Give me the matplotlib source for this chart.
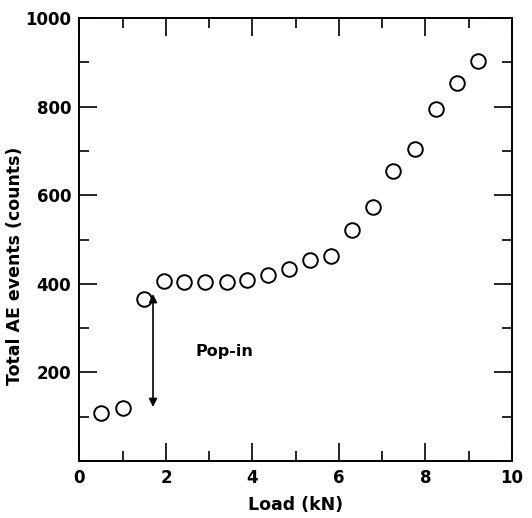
import matplotlib
matplotlib.use("Agg")
import matplotlib.pyplot as plt
from matplotlib.ticker import MultipleLocator

load_kN = [0.5, 1.0, 1.5, 1.95, 2.42, 2.9, 3.4, 3.88, 4.36, 4.85, 5.34, 5.82,
           6.31, 6.79, 7.26, 7.75, 8.25, 8.73, 9.21]
ae_counts = [109, 119, 366, 406, 405, 404, 405, 409, 420, 433, 453, 463,
             521, 573, 654, 704, 794, 854, 904]

x_ticks = [0, 2, 4, 6, 8, 10]
y_ticks = [200, 400, 600, 800, 1000]

fig = plt.figure(figsize=(5.32, 5.18), dpi=100)
ax = fig.add_axes([0.1494, 0.110, 0.8130, 0.855])

ax.plot(load_kN, ae_counts, linestyle="none", marker="o", markersize=10.5,
        markerfacecolor="white", markeredgecolor="black", markeredgewidth=1.4)

ax.set_xlim(0, 10)
ax.set_ylim(0, 1000)
ax.set_xticks(x_ticks)
ax.set_yticks(y_ticks)
ax.xaxis.set_minor_locator(MultipleLocator(1))
ax.yaxis.set_minor_locator(MultipleLocator(100))
ax.tick_params(which="both", direction="in", top=True, right=True, width=1.2,
               labelsize=12, pad=6)
ax.tick_params(which="major", length=13)
ax.tick_params(which="minor", length=7)
for lab in ax.get_xticklabels() + ax.get_yticklabels():
    lab.set_fontweight("bold")
for s in ax.spines.values():
    s.set_linewidth(1.4)

ax.set_xlabel("Load (kN)", fontsize=12.5, fontweight="bold", labelpad=6)
ax.set_ylabel("Total AE events (counts)", fontsize=12.5, fontweight="bold",
              labelpad=1, y=0.44)

ax.annotate("", xy=(1.70, 122), xytext=(1.70, 377),
            arrowprops=dict(arrowstyle="<|-|>", color="black", lw=1.2,
                            mutation_scale=12, shrinkA=0, shrinkB=0))
ax.text(2.69, 248, "Pop-in", fontsize=11.5, fontweight="bold", ha="left", va="center")

fig.savefig("out.png", dpi=100)
